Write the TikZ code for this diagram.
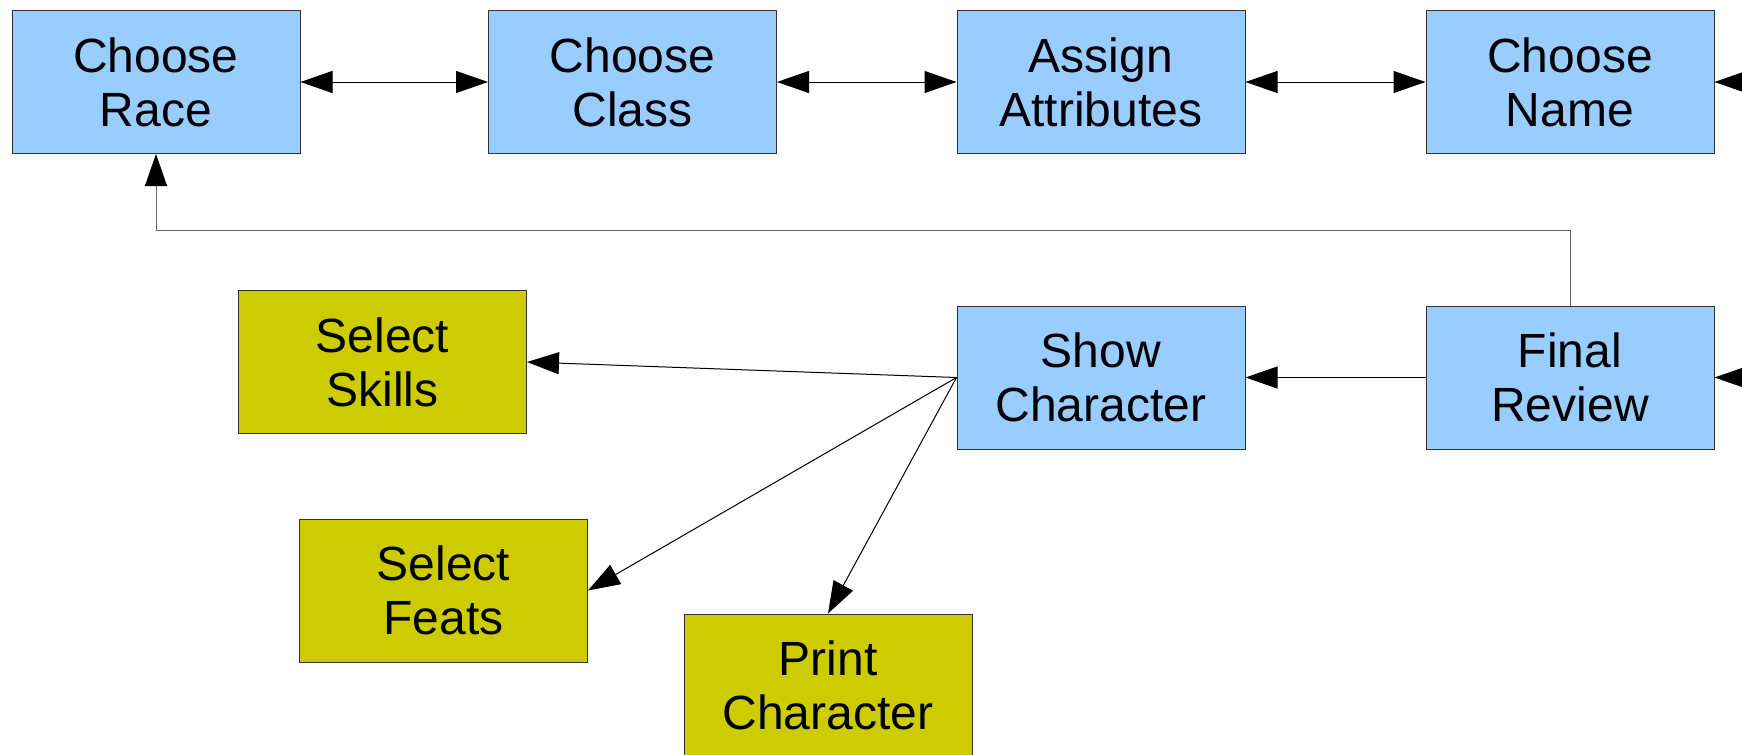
\documentclass[tikz,border=0pt]{standalone}
\usepackage{fontspec}
\setmainfont{Liberation Sans}
\usetikzlibrary{arrows.meta, calc}

\definecolor{stageblue}{HTML}{99CCFF}
\definecolor{extraolive}{HTML}{CCCC00}

\begin{document}
\begin{tikzpicture}[x=0.5pt,y=-0.5pt,
>={Triangle[length=16pt,width=11pt,color=black]},line width=0.5pt,black,text=black,
stage/.style={draw=black!80,fill=stageblue,minimum width=144pt,minimum height=71.5pt,
  inner sep=0pt,align=center,font=\fontsize{24}{27}\selectfont},
extra/.style={stage,fill=extraolive},
back/.style={draw=black!60}]

  \path[use as bounding box, fill=white] (0,0) rectangle (1742,755);

  % box centres
  \coordinate (cRace)  at (156 ,82);
  \coordinate (cClass) at (632.5,82);
  \coordinate (cAttr)  at (1101,82);
  \coordinate (cName)  at (1570,82);
  \coordinate (cSkill) at (382.5,362);
  \coordinate (cShow)  at (1101,377.5);
  \coordinate (cFinal) at (1570,377.5);
  \coordinate (cFeat)  at (443.5,590.5);
  \coordinate (cPrint) at (828,685.5);

  % wizard steps
  \node [stage] (race)  at (cRace)  {Choose\\Race};
  \node [stage] (class) at (cClass) {Choose\\Class};
  \node [stage] (attr)  at (cAttr)  {Assign\\Attributes};
  \node [stage] (name)  at (cName)  {Choose\\Name};
  \node [stage] (show)  at (cShow)  {Show\\Character};
  \node [stage] (final) at (cFinal) {Final\\Review};

  % extras
  \node [extra] (skill) at (cSkill) {Select\\Skills};
  \node [extra] (feat)  at (cFeat)  {Select\\Feats};
  \node [extra] (print) at (cPrint) {Print\\Character};

  % arrows coming in from the right
  \coordinate (inName)  at (1800,82);
  \coordinate (inFinal) at (1800,377.5);
  \coordinate (fb)      at (0,230);

  \draw [<->] (race) -- (class);
  \draw [<->] (class) -- (attr);
  \draw [<->] (attr) -- (name);
  \draw [->] (inName) -- (name);
  \draw [->] (inFinal) -- (final);
  \draw [->] (final) -- (show);
  \draw [->, back] (final.north) -- (final.north |- fb) -| (race.south);
  \draw [->] (show.west) -- (skill.east);
  \draw [->] (show.west) -- (feat.east);
  \draw [->] (show.west) -- (print.north);
\end{tikzpicture}
\end{document}
